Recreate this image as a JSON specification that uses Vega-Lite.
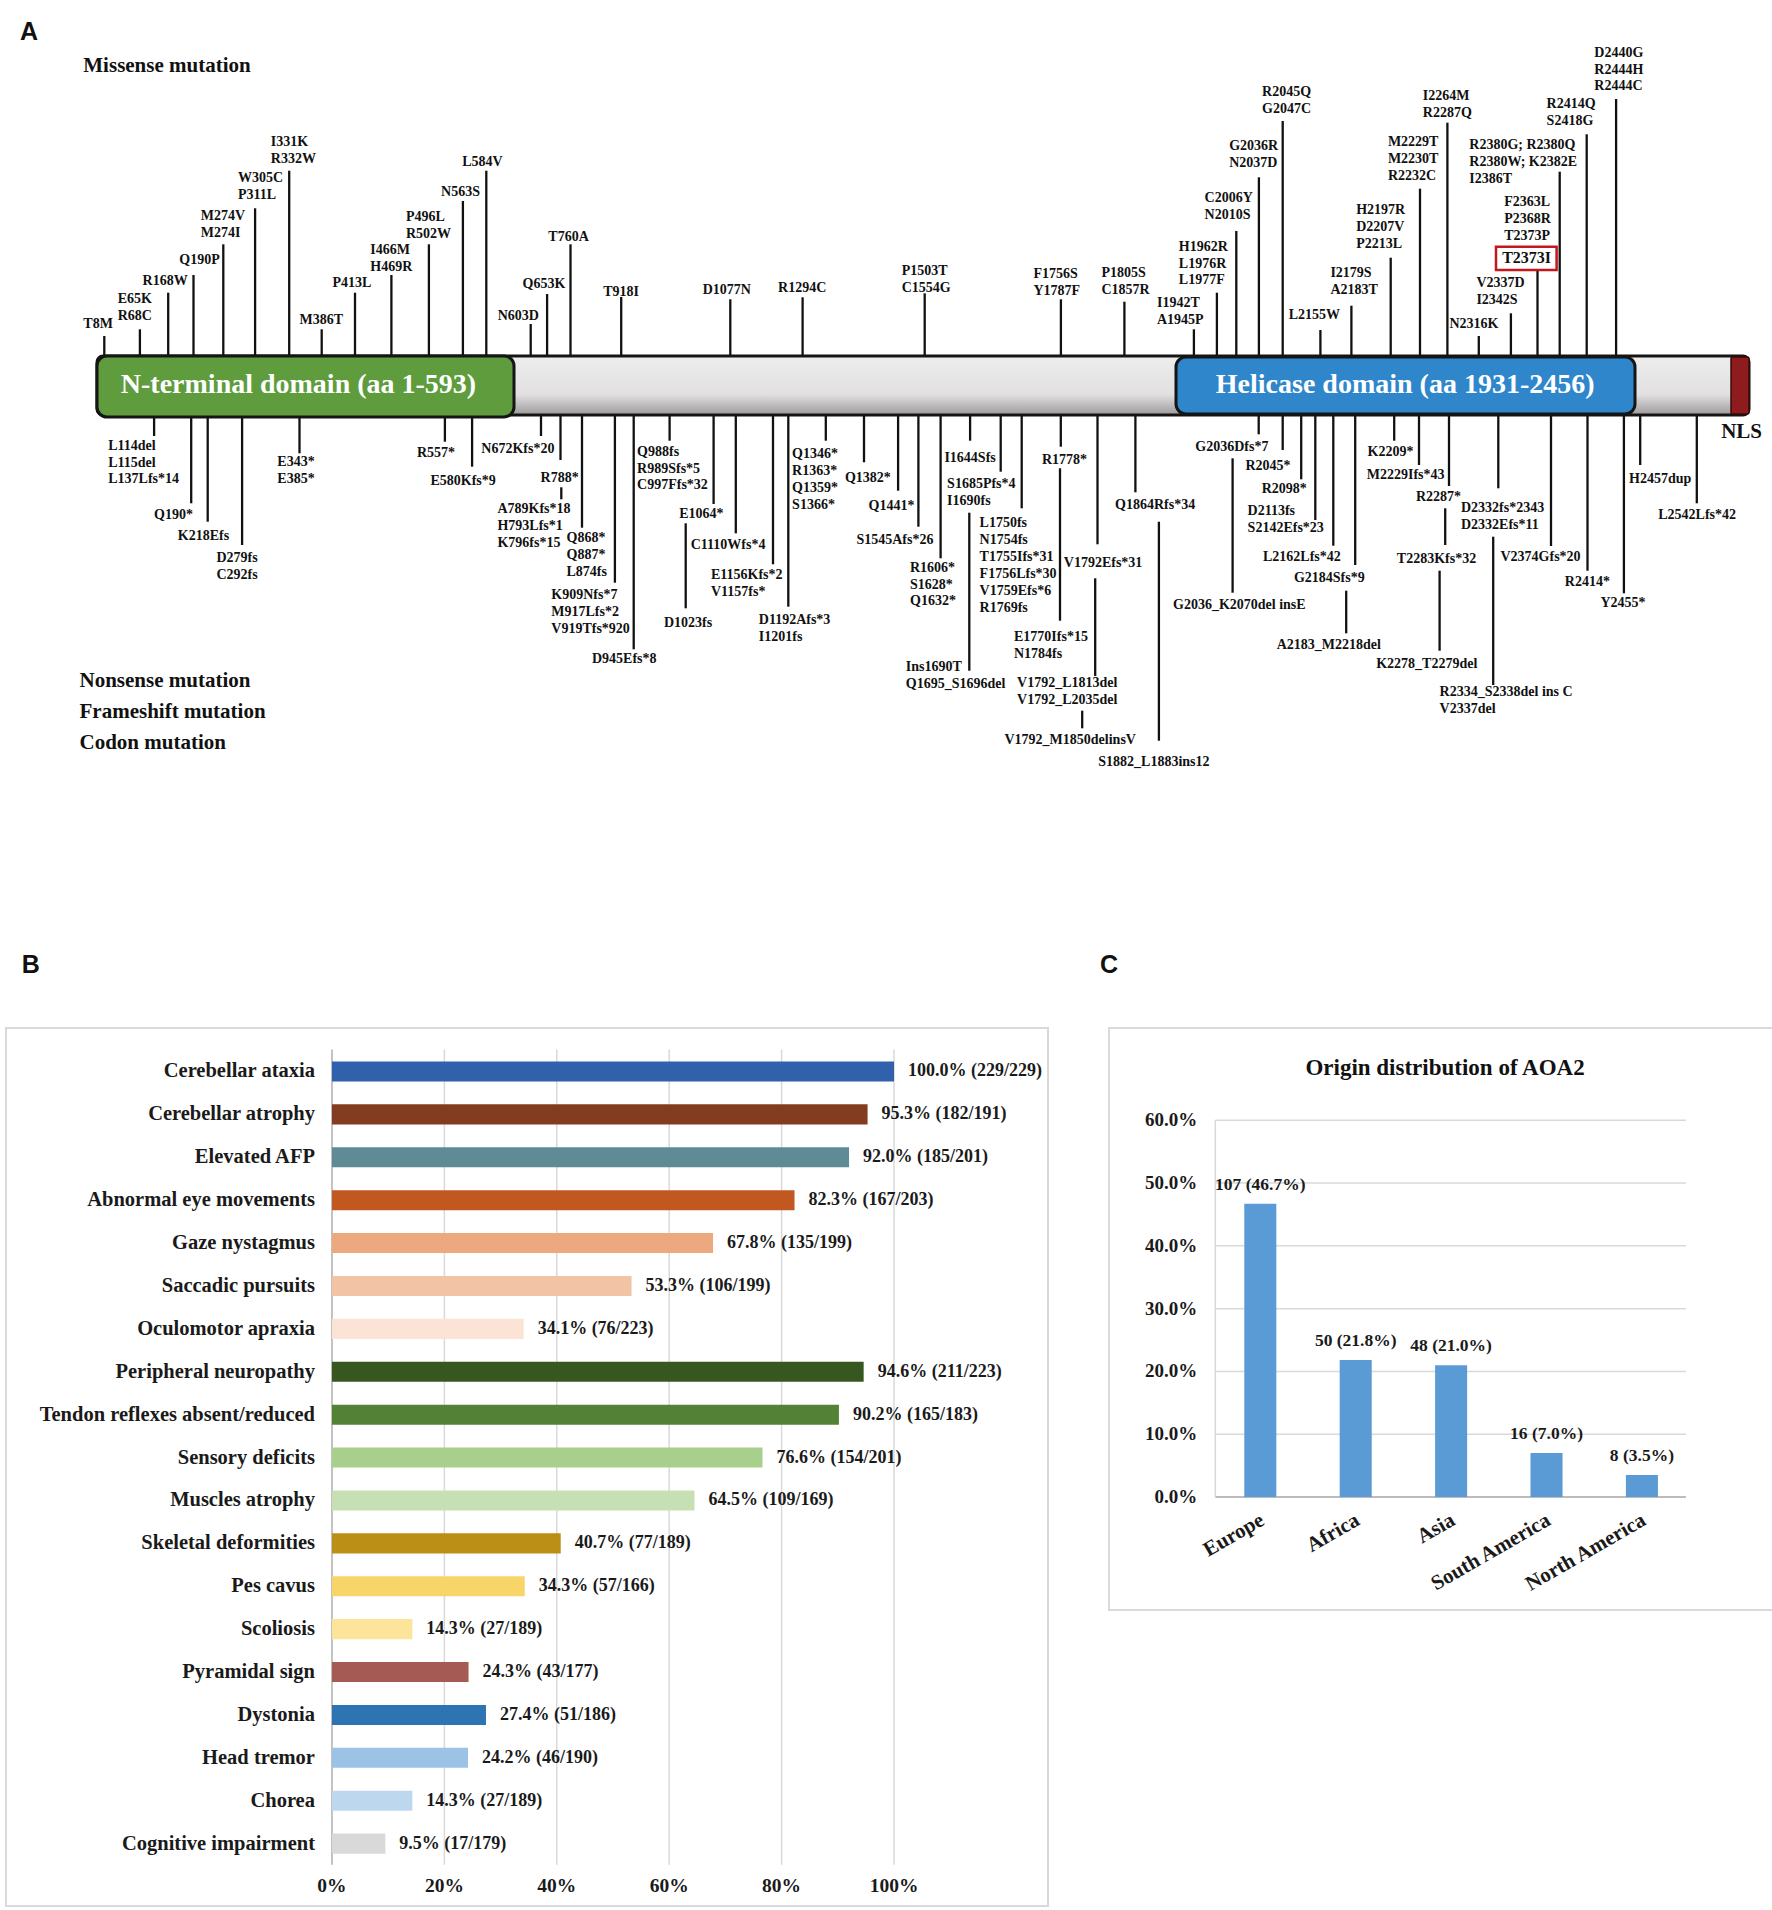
{
  "$schema": "https://vega.github.io/schema/vega-lite/v6.json",
  "background": "white",
  "padding": {"left": 5, "top": 0, "right": 0, "bottom": 0},
  "config": {"view": {"stroke": null}, "font": "Liberation Serif"},
  "spacing": 1,
  "datasets": {
    "stems": [
      {"x":103.3,"y":356,"y2":336},{"x":138.9,"y":356,"y2":329.3},{"x":167.2,"y":356,"y2":292.7},{"x":192.5,"y":356,"y2":275},
      {"x":222.3,"y":356,"y2":244.3},{"x":254.1,"y":356,"y2":208.3},{"x":288.2,"y":356,"y2":170.7},{"x":320.7,"y":356,"y2":329.3},
      {"x":354,"y":356,"y2":292.7},{"x":390.4,"y":356,"y2":275},{"x":427.9,"y":356,"y2":244.3},{"x":461.9,"y":356,"y2":201},
      {"x":485.3,"y":356,"y2":170.7},{"x":529.7,"y":356,"y2":324},{"x":546.1,"y":356,"y2":294},{"x":569.5,"y":356,"y2":244.3},
      {"x":620.2,"y":356,"y2":297},{"x":729.3,"y":356,"y2":299.3},{"x":801.6,"y":356,"y2":297.3},{"x":923.7,"y":356,"y2":293.3},
      {"x":1059.9,"y":356,"y2":299.3},{"x":1123.4,"y":356,"y2":301.7},{"x":1192.9,"y":356,"y2":329.3},{"x":1215.9,"y":356,"y2":292.7},
      {"x":1235.3,"y":356,"y2":231},{"x":1257.9,"y":356,"y2":177.3},{"x":1281.7,"y":356,"y2":121},{"x":1319.4,"y":356,"y2":330},
      {"x":1350.4,"y":356,"y2":305.7},{"x":1389.7,"y":356,"y2":257.7},{"x":1419,"y":356,"y2":188.7},{"x":1446.4,"y":356,"y2":122.7},
      {"x":1477.8,"y":356,"y2":336},{"x":1509.9,"y":356,"y2":313.3},{"x":1536.5,"y":356,"y2":270.7},{"x":1558.7,"y":356,"y2":171.7},
      {"x":1585.7,"y":356,"y2":134.3},{"x":1615.1,"y":356,"y2":99},
      {"x":153.1,"y":415,"y2":436},{"x":190.2,"y":415,"y2":503.3},{"x":206.7,"y":415,"y2":521.7},{"x":241.1,"y":415,"y2":545},
      {"x":298.5,"y":415,"y2":453.3},{"x":443.9,"y":415,"y2":441.7},{"x":471.1,"y":415,"y2":466.7},{"x":540,"y":415,"y2":436},
      {"x":559.5,"y":415,"y2":460},{"x":560.3,"y":487.3,"y2":499.3},{"x":581,"y":415,"y2":527.7},{"x":613.9,"y":415,"y2":582.7},
      {"x":632.7,"y":415,"y2":649.3},{"x":668.6,"y":415,"y2":440.7},{"x":712.6,"y":415,"y2":504},{"x":684.7,"y":523.3,"y2":608.3},
      {"x":734.8,"y":415,"y2":533.3},{"x":772,"y":415,"y2":564.3},{"x":787.3,"y":415,"y2":606.7},{"x":824.8,"y":415,"y2":440.7},
      {"x":863,"y":415,"y2":462.3},{"x":897.1,"y":415,"y2":490.7},{"x":917.4,"y":415,"y2":526.7},{"x":939.6,"y":415,"y2":558.3},
      {"x":969.1,"y":415,"y2":440.7},{"x":999.7,"y":415,"y2":471.7},{"x":968.3,"y":512.7,"y2":670.7},{"x":1020.7,"y":415,"y2":508.3},
      {"x":1059.8,"y":415,"y2":446.7},{"x":1059,"y":468.3,"y2":620.7},{"x":1096.5,"y":415,"y2":544.3},{"x":1094.2,"y":578.3,"y2":676},
      {"x":1081.2,"y":710.7,"y2":728.3},{"x":1134.4,"y":415,"y2":492.3},{"x":1157.9,"y":521.7,"y2":740.7},{"x":1257.7,"y":415,"y2":434.3},
      {"x":1231.6,"y":458.3,"y2":592.7},{"x":1281.7,"y":415,"y2":450},{"x":1300.2,"y":415,"y2":479.3},{"x":1314.3,"y":415,"y2":520},
      {"x":1332.3,"y":415,"y2":545.7},{"x":1354.2,"y":415,"y2":565},{"x":1345.2,"y":590.7,"y2":633.3},{"x":1393.2,"y":415,"y2":440.7},
      {"x":1418,"y":415,"y2":465},{"x":1448,"y":415,"y2":486},{"x":1444.2,"y":508.3,"y2":545},{"x":1438.6,"y":570.7,"y2":650.7},
      {"x":1497.3,"y":415,"y2":488.3},{"x":1492.2,"y":536.7,"y2":685},{"x":1550,"y":415,"y2":546},{"x":1586.5,"y":415,"y2":570.7},
      {"x":1622.9,"y":415,"y2":593.3},{"x":1639.2,"y":415,"y2":465},{"x":1695.8,"y":415,"y2":503.3}
    ],
    "labels": [
      {"x":82.3,"y":319.3,"t":"T8M"},{"x":116.7,"y":294,"t":"E65K\nR68C"},{"x":141.6,"y":276,"t":"R168W"},{"x":178.3,"y":255,"t":"Q190P"},
      {"x":199.8,"y":210.7,"t":"M274V\nM274I"},{"x":236.9,"y":172.7,"t":"W305C\nP311L"},{"x":269.8,"y":136.7,"t":"I331K\nR332W"},
      {"x":298.5,"y":315,"t":"M386T"},{"x":331.4,"y":277.7,"t":"P413L"},{"x":369.3,"y":245,"t":"I466M\nH469R"},{"x":404.9,"y":212,"t":"P496L\nR502W"},
      {"x":440.1,"y":187.3,"t":"N563S"},{"x":461.2,"y":156.7,"t":"L584V"},{"x":496.7,"y":311,"t":"N603D"},{"x":521.6,"y":278.7,"t":"Q653K"},
      {"x":547.3,"y":231.7,"t":"T760A"},{"x":602.2,"y":286.7,"t":"T918I"},{"x":701.7,"y":285,"t":"D1077N"},{"x":777.1,"y":282.7,"t":"R1294C"},
      {"x":900.7,"y":265.7,"t":"P1503T\nC1554G"},{"x":1032.4,"y":269,"t":"F1756S\nY1787F"},{"x":1100.5,"y":268.3,"t":"P1805S\nC1857R"},
      {"x":1156,"y":298.3,"t":"I1942T\nA1945P"},{"x":1177.8,"y":241.7,"t":"H1962R\nL1976R\nL1977F"},{"x":1203.6,"y":193.3,"t":"C2006Y\nN2010S"},
      {"x":1228.2,"y":140.7,"t":"G2036R\nN2037D"},{"x":1261.1,"y":86.7,"t":"R2045Q\nG2047C"},{"x":1287.7,"y":310,"t":"L2155W"},
      {"x":1329.4,"y":268.3,"t":"I2179S\nA2183T"},{"x":1355.2,"y":205,"t":"H2197R\nD2207V\nP2213L"},{"x":1386.9,"y":137.3,"t":"M2229T\nM2230T\nR2232C"},
      {"x":1421.8,"y":90.7,"t":"I2264M\nR2287Q"},{"x":1448.4,"y":319.3,"t":"N2316K"},{"x":1475.4,"y":278.3,"t":"V2337D\nI2342S"},
      {"x":1503.2,"y":197.3,"t":"F2363L\nP2368R\nT2373P"},{"x":1468.3,"y":140,"t":"R2380G; R2380Q\nR2380W; K2382E\nI2386T"},
      {"x":1545.6,"y":99.3,"t":"R2414Q\nS2418G"},{"x":1593.3,"y":47.7,"t":"D2440G\nR2444H\nR2444C"},
      {"x":107.2,"y":440.7,"t":"L114del\nL115del\nL137Lfs*14"},{"x":153.1,"y":510,"t":"Q190*"},{"x":176.8,"y":530.7,"t":"K218Efs"},
      {"x":215.5,"y":553.3,"t":"D279fs\nC292fs"},{"x":276.3,"y":456.7,"t":"E343*\nE385*"},{"x":416,"y":448.3,"t":"R557*"},
      {"x":429.4,"y":476,"t":"E580Kfs*9"},{"x":480.3,"y":444.3,"t":"N672Kfs*20"},{"x":539.6,"y":473.3,"t":"R788*"},
      {"x":496.4,"y":504,"t":"A789Kfs*18\nH793Lfs*1\nK796fs*15"},{"x":565.5,"y":533.3,"t":"Q868*\nQ887*\nL874fs"},
      {"x":550.3,"y":590,"t":"K909Nfs*7\nM917Lfs*2\nV919Tfs*920"},{"x":591,"y":654,"t":"D945Efs*8"},
      {"x":636.1,"y":446.7,"t":"Q988fs\nR989Sfs*5\nC997Ffs*32"},{"x":678.2,"y":509.3,"t":"E1064*"},{"x":662.9,"y":618.3,"t":"D1023fs"},
      {"x":689.7,"y":540,"t":"C1110Wfs*4"},{"x":710,"y":570,"t":"E1156Kfs*2\nV1157fs*"},{"x":757.8,"y":615,"t":"D1192Afs*3\nI1201fs"},
      {"x":791.1,"y":449.3,"t":"Q1346*\nR1363*\nQ1359*\nS1366*"},{"x":843.9,"y":472.7,"t":"Q1382*"},{"x":867.6,"y":500.7,"t":"Q1441*"},
      {"x":855.4,"y":535,"t":"S1545Afs*26"},{"x":909,"y":562.7,"t":"R1606*\nS1628*\nQ1632*"},{"x":943.4,"y":452.7,"t":"I1644Sfs"},
      {"x":946.1,"y":479.3,"t":"S1685Pfs*4\nI1690fs"},{"x":904.8,"y":661.7,"t":"Ins1690T\nQ1695_S1696del"},
      {"x":978.6,"y":518.3,"t":"L1750fs\nN1754fs\nT1755Ifs*31\nF1756Lfs*30\nV1759Efs*6\nR1769fs"},{"x":1041,"y":455,"t":"R1778*"},
      {"x":1013,"y":632.3,"t":"E1770Ifs*15\nN1784fs"},{"x":1062.8,"y":558.3,"t":"V1792Efs*31"},
      {"x":1016.1,"y":678.3,"t":"V1792_L1813del\nV1792_L2035del"},{"x":1003.5,"y":735,"t":"V1792_M1850delinsV"},
      {"x":1114.1,"y":500,"t":"Q1864Rfs*34"},{"x":1097.3,"y":757.3,"t":"S1882_L1883ins12"},{"x":1194.3,"y":441.7,"t":"G2036Dfs*7"},
      {"x":1172,"y":600,"t":"G2036_K2070del insE"},{"x":1244.4,"y":460.7,"t":"R2045*"},{"x":1260.7,"y":484,"t":"R2098*"},
      {"x":1246.6,"y":506,"t":"D2113fs\nS2142Efs*23"},{"x":1262,"y":551.7,"t":"L2162Lfs*42"},{"x":1292.9,"y":572.7,"t":"G2184Sfs*9"},
      {"x":1275.7,"y":640,"t":"A2183_M2218del"},{"x":1366.6,"y":447.3,"t":"K2209*"},{"x":1365.8,"y":470,"t":"M2229Ifs*43"},
      {"x":1415,"y":491.7,"t":"R2287*"},{"x":1395.8,"y":554,"t":"T2283Kfs*32"},{"x":1375.2,"y":659,"t":"K2278_T2279del"},
      {"x":1460,"y":502.7,"t":"D2332fs*2343\nD2332Efs*11"},{"x":1438.6,"y":687.3,"t":"R2334_S2338del ins C\nV2337del"},
      {"x":1499.5,"y":551.7,"t":"V2374Gfs*20"},{"x":1563.8,"y":576.7,"t":"R2414*"},{"x":1599.4,"y":598.3,"t":"Y2455*"},
      {"x":1628.1,"y":474,"t":"H2457dup"},{"x":1657.2,"y":510,"t":"L2542Lfs*42"}
    ],
    "boxed": [{"x":1501.2,"y":251.7,"t":"T2373I","x1":1495,"x2":1555.6,"y1":246.7,"y2":270}],
    "protein": [{"x1":96,"x2":1748,"y1":356,"y2":415}],
    "domains": [
      {"name":"N-terminal","x1":96,"x2":513,"y1":356,"y2":417},
      {"name":"Helicase","x1":1175,"x2":1634,"y1":357,"y2":414}
    ],
    "nls": [{"x1":1730,"x2":1748,"y1":357,"y2":414}],
    "domainText": [
      {"x":297.5,"y":384.5,"t":"N-terminal domain (aa 1-593)"},
      {"x":1404.2,"y":385,"t":"Helicase domain (aa 1931-2456)"}
    ],
    "bigText": [
      {"x":82.3,"y":57.3,"t":"Missense mutation"},
      {"x":78.5,"y":672.7,"t":"Nonsense mutation"},
      {"x":78.5,"y":704,"t":"Frameshift mutation"},
      {"x":78.5,"y":734.3,"t":"Codon mutation"},
      {"x":1720.2,"y":423.3,"t":"NLS"}
    ],
    "letters": [
      {"x":19,"y":21.7,"t":"A"},{"x":20.7,"y":955.3,"t":"B"},{"x":1099,"y":955.3,"t":"C"}
    ],
    "symptoms": [
      {"symptom":"Cerebellar ataxia","pct":100.0,"label":"100.0% (229/229)"},
      {"symptom":"Cerebellar atrophy","pct":95.3,"label":"95.3% (182/191)"},
      {"symptom":"Elevated AFP","pct":92.0,"label":"92.0% (185/201)"},
      {"symptom":"Abnormal eye movements","pct":82.3,"label":"82.3% (167/203)"},
      {"symptom":"Gaze nystagmus","pct":67.8,"label":"67.8% (135/199)"},
      {"symptom":"Saccadic pursuits","pct":53.3,"label":"53.3% (106/199)"},
      {"symptom":"Oculomotor apraxia","pct":34.1,"label":"34.1% (76/223)"},
      {"symptom":"Peripheral neuropathy","pct":94.6,"label":"94.6% (211/223)"},
      {"symptom":"Tendon reflexes absent/reduced","pct":90.2,"label":"90.2% (165/183)"},
      {"symptom":"Sensory deficits","pct":76.6,"label":"76.6% (154/201)"},
      {"symptom":"Muscles atrophy","pct":64.5,"label":"64.5% (109/169)"},
      {"symptom":"Skeletal deformities","pct":40.7,"label":"40.7% (77/189)"},
      {"symptom":"Pes cavus","pct":34.3,"label":"34.3% (57/166)"},
      {"symptom":"Scoliosis","pct":14.3,"label":"14.3% (27/189)"},
      {"symptom":"Pyramidal sign","pct":24.3,"label":"24.3% (43/177)"},
      {"symptom":"Dystonia","pct":27.4,"label":"27.4% (51/186)"},
      {"symptom":"Head tremor","pct":24.2,"label":"24.2% (46/190)"},
      {"symptom":"Chorea","pct":14.3,"label":"14.3% (27/189)"},
      {"symptom":"Cognitive impairment","pct":9.5,"label":"9.5% (17/179)"}
    ],
    "bTicks": [
      {"v":0,"t":"0%"},{"v":20,"t":"20%"},{"v":40,"t":"40%"},{"v":60,"t":"60%"},{"v":80,"t":"80%"},{"v":100,"t":"100%"}
    ],
    "origin": [
      {"region":"Europe","pct":46.7,"label":"107 (46.7%)"},
      {"region":"Africa","pct":21.8,"label":"50 (21.8%)"},
      {"region":"Asia","pct":21.0,"label":"48 (21.0%)"},
      {"region":"South America","pct":7.0,"label":"16 (7.0%)"},
      {"region":"North America","pct":3.5,"label":"8 (3.5%)"}
    ],
    "cTicks": [
      {"v":0,"t":"0.0%"},{"v":10,"t":"10.0%"},{"v":20,"t":"20.0%"},{"v":30,"t":"30.0%"},{"v":40,"t":"40.0%"},{"v":50,"t":"50.0%"},{"v":60,"t":"60.0%"}
    ]
  },
  "vconcat": [
    {
      "width": 1767,
      "height": 1026,
      "layer": [
        {
          "data": {"name": "stems"},
          "mark": {"type": "rule", "stroke": "#111111", "strokeWidth": 2.3},
          "encoding": {
            "x": {"field": "x", "type": "quantitative", "scale": {"domain": [5, 1772], "nice": false, "zero": false}, "axis": null},
            "y": {"field": "y", "type": "quantitative", "scale": {"domain": [0, 1026], "reverse": true, "nice": false, "zero": false}, "axis": null},
            "y2": {"field": "y2"}
          }
        },
        {
          "data": {"name": "protein"},
          "mark": {"type": "rect", "stroke": "#151515", "strokeWidth": 3, "cornerRadius": 6,
            "fill": {"gradient": "linear", "x1": 0, "y1": 0, "x2": 0, "y2": 1,
              "stops": [{"offset": 0, "color": "#eeeeee"}, {"offset": 0.65, "color": "#e2e0e0"}, {"offset": 1, "color": "#9c9a9a"}]}},
          "encoding": {
            "x": {"field": "x1", "type": "quantitative", "scale": {"domain": [5, 1772], "nice": false, "zero": false}, "axis": null},
            "x2": {"field": "x2"},
            "y": {"field": "y1", "type": "quantitative", "scale": {"domain": [0, 1026], "reverse": true, "nice": false, "zero": false}, "axis": null},
            "y2": {"field": "y2"}
          }
        },
        {
          "data": {"name": "domains"},
          "mark": {"type": "rect", "stroke": "#151515", "strokeWidth": 3, "cornerRadius": 10},
          "encoding": {
            "x": {"field": "x1", "type": "quantitative", "scale": {"domain": [5, 1772], "nice": false, "zero": false}, "axis": null},
            "x2": {"field": "x2"},
            "y": {"field": "y1", "type": "quantitative", "scale": {"domain": [0, 1026], "reverse": true, "nice": false, "zero": false}, "axis": null},
            "y2": {"field": "y2"},
            "fill": {"field": "name", "type": "nominal", "scale": {"domain": ["N-terminal", "Helicase"], "range": ["#5e9c3e", "#2f86cb"]}, "legend": null}
          }
        },
        {
          "data": {"name": "nls"},
          "mark": {"type": "rect", "fill": "#8e1c1f", "stroke": "#3a0a0a", "strokeWidth": 1.5, "cornerRadius": 2},
          "encoding": {
            "x": {"field": "x1", "type": "quantitative", "scale": {"domain": [5, 1772], "nice": false, "zero": false}, "axis": null},
            "x2": {"field": "x2"},
            "y": {"field": "y1", "type": "quantitative", "scale": {"domain": [0, 1026], "reverse": true, "nice": false, "zero": false}, "axis": null},
            "y2": {"field": "y2"}
          }
        },
        {
          "data": {"name": "domainText"},
          "mark": {"type": "text", "align": "center", "baseline": "middle", "font": "Liberation Serif", "fontWeight": "bold", "fontSize": 28, "color": "#ffffff"},
          "encoding": {
            "x": {"field": "x", "type": "quantitative", "scale": {"domain": [5, 1772], "nice": false, "zero": false}, "axis": null},
            "y": {"field": "y", "type": "quantitative", "scale": {"domain": [0, 1026], "reverse": true, "nice": false, "zero": false}, "axis": null},
            "text": {"field": "t"}
          }
        },
        {
          "data": {"name": "labels"},
          "mark": {"type": "text", "align": "left", "baseline": "top", "dy": -2, "font": "Liberation Serif", "fontWeight": "bold", "fontSize": 14, "lineHeight": 16.9, "lineBreak": "\n", "color": "#111111"},
          "encoding": {
            "x": {"field": "x", "type": "quantitative", "scale": {"domain": [5, 1772], "nice": false, "zero": false}, "axis": null},
            "y": {"field": "y", "type": "quantitative", "scale": {"domain": [0, 1026], "reverse": true, "nice": false, "zero": false}, "axis": null},
            "text": {"field": "t"}
          }
        },
        {
          "data": {"name": "boxed"},
          "mark": {"type": "rect", "fill": null, "fillOpacity": 0, "stroke": "#c4161c", "strokeWidth": 2.5},
          "encoding": {
            "x": {"field": "x1", "type": "quantitative", "scale": {"domain": [5, 1772], "nice": false, "zero": false}, "axis": null},
            "x2": {"field": "x2"},
            "y": {"field": "y1", "type": "quantitative", "scale": {"domain": [0, 1026], "reverse": true, "nice": false, "zero": false}, "axis": null},
            "y2": {"field": "y2"}
          }
        },
        {
          "data": {"name": "boxed"},
          "mark": {"type": "text", "align": "left", "baseline": "top", "dy": -2, "font": "Liberation Serif", "fontWeight": "bold", "fontSize": 16, "color": "#111111"},
          "encoding": {
            "x": {"field": "x", "type": "quantitative", "scale": {"domain": [5, 1772], "nice": false, "zero": false}, "axis": null},
            "y": {"field": "y", "type": "quantitative", "scale": {"domain": [0, 1026], "reverse": true, "nice": false, "zero": false}, "axis": null},
            "text": {"field": "t"}
          }
        },
        {
          "data": {"name": "bigText"},
          "mark": {"type": "text", "align": "left", "baseline": "top", "dy": -2.7, "font": "Liberation Serif", "fontWeight": "bold", "fontSize": 21, "color": "#111111"},
          "encoding": {
            "x": {"field": "x", "type": "quantitative", "scale": {"domain": [5, 1772], "nice": false, "zero": false}, "axis": null},
            "y": {"field": "y", "type": "quantitative", "scale": {"domain": [0, 1026], "reverse": true, "nice": false, "zero": false}, "axis": null},
            "text": {"field": "t"}
          }
        },
        {
          "data": {"name": "letters"},
          "mark": {"type": "text", "align": "left", "baseline": "top", "dy": -2, "font": "Liberation Sans", "fontWeight": "bold", "fontSize": 25, "color": "#111111"},
          "encoding": {
            "x": {"field": "x", "type": "quantitative", "scale": {"domain": [5, 1772], "nice": false, "zero": false}, "axis": null},
            "y": {"field": "y", "type": "quantitative", "scale": {"domain": [0, 1026], "reverse": true, "nice": false, "zero": false}, "axis": null},
            "text": {"field": "t"}
          }
        }
      ]
    },
    {
      "spacing": 59,
      "hconcat": [
        {
          "width": 1042,
          "height": 878,
          "view": {"stroke": "#d9d9d9", "strokeWidth": 2},
          "layer": [
            {
              "data": {"values": [{"v": 20}, {"v": 40}, {"v": 60}, {"v": 80}, {"v": 100}]},
              "mark": {"type": "rule", "stroke": "#d9d9d9", "strokeWidth": 1.5, "yOffset": -22, "y2Offset": 21},
              "encoding": {
                "x": {"field": "v", "type": "quantitative", "scale": {"domain": [-58.0, 127.4], "nice": false, "zero": false}, "axis": null},
                "y": {"datum": "Cerebellar ataxia", "type": "nominal", "axis": null,
                  "scale": {"domain": ["Cerebellar ataxia", "Cerebellar atrophy", "Elevated AFP", "Abnormal eye movements", "Gaze nystagmus", "Saccadic pursuits", "Oculomotor apraxia", "Peripheral neuropathy", "Tendon reflexes absent/reduced", "Sensory deficits", "Muscles atrophy", "Skeletal deformities", "Pes cavus", "Scoliosis", "Pyramidal sign", "Dystonia", "Head tremor", "Chorea", "Cognitive impairment"],
                    "paddingInner": 0.5325, "paddingOuter": 1.0, "align": 0.39}},
                "y2": {"datum": "Cognitive impairment"}
              }
            },
            {
              "data": {"values": [{"v": 0}]},
              "mark": {"type": "rule", "stroke": "#bcbcbc", "strokeWidth": 1.8, "yOffset": -22, "y2Offset": 21},
              "encoding": {
                "x": {"field": "v", "type": "quantitative", "axis": null},
                "y": {"datum": "Cerebellar ataxia", "type": "nominal", "axis": null},
                "y2": {"datum": "Cognitive impairment"}
              }
            },
            {
              "data": {"name": "symptoms"},
              "mark": {"type": "bar"},
              "encoding": {
                "x": {"field": "pct", "type": "quantitative", "axis": null},
                "x2": {"datum": 0},
                "y": {"field": "symptom", "type": "nominal", "axis": null},
                "color": {"field": "symptom", "type": "nominal", "legend": null,
                  "scale": {"domain": ["Cerebellar ataxia", "Cerebellar atrophy", "Elevated AFP", "Abnormal eye movements", "Gaze nystagmus", "Saccadic pursuits", "Oculomotor apraxia", "Peripheral neuropathy", "Tendon reflexes absent/reduced", "Sensory deficits", "Muscles atrophy", "Skeletal deformities", "Pes cavus", "Scoliosis", "Pyramidal sign", "Dystonia", "Head tremor", "Chorea", "Cognitive impairment"],
                    "range": ["#3160ad", "#843c21", "#5e8b96", "#c0581f", "#eca97f", "#f2c4a5", "#fbe3d5", "#38561f", "#538135", "#a8cf8c", "#c6e0b4", "#bb8f16", "#f8d568", "#fce59a", "#a55b54", "#2e73b2", "#9cc2e5", "#bdd7ee", "#d9d9d9"]}}
              }
            },
            {
              "data": {"name": "symptoms"},
              "mark": {"type": "text", "align": "right", "baseline": "middle", "dx": -17, "font": "Liberation Serif", "fontWeight": "bold", "fontSize": 20.5, "color": "#1a1a1a"},
              "encoding": {
                "x": {"datum": 0, "type": "quantitative", "axis": null},
                "y": {"field": "symptom", "type": "nominal", "axis": null},
                "text": {"field": "symptom"}
              }
            },
            {
              "data": {"name": "symptoms"},
              "mark": {"type": "text", "align": "left", "baseline": "middle", "dx": 14, "font": "Liberation Serif", "fontWeight": "bold", "fontSize": 18, "color": "#1a1a1a"},
              "encoding": {
                "x": {"field": "pct", "type": "quantitative", "axis": null},
                "y": {"field": "symptom", "type": "nominal", "axis": null},
                "text": {"field": "label"}
              }
            },
            {
              "data": {"name": "bTicks"},
              "mark": {"type": "text", "align": "center", "baseline": "middle", "dy": 42, "font": "Liberation Serif", "fontWeight": "bold", "fontSize": 19.5, "color": "#1a1a1a"},
              "encoding": {
                "x": {"field": "v", "type": "quantitative", "axis": null},
                "y": {"datum": "Cognitive impairment", "type": "nominal", "axis": null},
                "text": {"field": "t"}
              }
            }
          ]
        },
        {
          "width": 664,
          "height": 582,
          "view": {"stroke": "#d9d9d9", "strokeWidth": 2},
          "title": {"text": "Origin distribution of AOA2", "anchor": "middle", "offset": -52, "baseline": "top", "dx": 4,
            "font": "Liberation Serif", "fontSize": 23, "fontWeight": "bold", "color": "#111111"},
          "layer": [
            {
              "data": {"values": [{"v": 10}, {"v": 20}, {"v": 30}, {"v": 40}, {"v": 50}, {"v": 60}]},
              "mark": {"type": "rule", "stroke": "#d9d9d9", "strokeWidth": 1.5, "xOffset": -45, "x2Offset": 44},
              "encoding": {
                "y": {"field": "v", "type": "quantitative", "scale": {"domain": [-18.0, 74.7], "nice": false, "zero": false}, "axis": null},
                "x": {"datum": "Europe", "type": "nominal", "axis": null,
                  "scale": {"domain": ["Europe", "Africa", "Asia", "South America", "North America"], "paddingInner": 0.04, "paddingOuter": 1.0, "align": 0.553}},
                "x2": {"datum": "North America"}
              }
            },
            {
              "data": {"values": [{"v": 0}]},
              "mark": {"type": "rule", "stroke": "#bcbcbc", "strokeWidth": 1.8, "xOffset": -45, "x2Offset": 44},
              "encoding": {
                "y": {"field": "v", "type": "quantitative", "axis": null},
                "x": {"datum": "Europe", "type": "nominal", "axis": null},
                "x2": {"datum": "North America"}
              }
            },
            {
              "data": {"values": [{"a": 0, "b": 60}]},
              "mark": {"type": "rule", "stroke": "#d9d9d9", "strokeWidth": 1.5, "xOffset": -45},
              "encoding": {
                "y": {"field": "a", "type": "quantitative", "axis": null},
                "y2": {"field": "b"},
                "x": {"datum": "Europe", "type": "nominal", "axis": null}
              }
            },
            {
              "data": {"name": "origin"},
              "mark": {"type": "bar", "color": "#5b9bd5", "width": {"band": 0.35}},
              "encoding": {
                "x": {"field": "region", "type": "nominal", "axis": null},
                "y": {"field": "pct", "type": "quantitative", "axis": null},
                "y2": {"datum": 0}
              }
            },
            {
              "data": {"name": "origin"},
              "mark": {"type": "text", "align": "center", "baseline": "bottom", "dy": -10, "font": "Liberation Serif", "fontWeight": "bold", "fontSize": 17.5, "color": "#1a1a1a"},
              "encoding": {
                "x": {"field": "region", "type": "nominal", "axis": null},
                "y": {"field": "pct", "type": "quantitative", "axis": null},
                "text": {"field": "label"}
              }
            },
            {
              "data": {"name": "origin"},
              "mark": {"type": "text", "align": "right", "baseline": "top", "angle": 330, "dx": -9, "dy": 9, "font": "Liberation Serif", "fontWeight": "bold", "fontSize": 21, "color": "#1a1a1a"},
              "encoding": {
                "x": {"field": "region", "type": "nominal", "axis": null},
                "y": {"datum": 0, "type": "quantitative", "axis": null},
                "text": {"field": "region"}
              }
            },
            {
              "data": {"name": "cTicks"},
              "mark": {"type": "text", "align": "right", "baseline": "middle", "dx": -63, "font": "Liberation Serif", "fontWeight": "bold", "fontSize": 19, "color": "#1a1a1a"},
              "encoding": {
                "x": {"datum": "Europe", "type": "nominal", "axis": null},
                "y": {"field": "v", "type": "quantitative", "axis": null},
                "text": {"field": "t"}
              }
            }
          ]
        }
      ]
    }
  ]
}
